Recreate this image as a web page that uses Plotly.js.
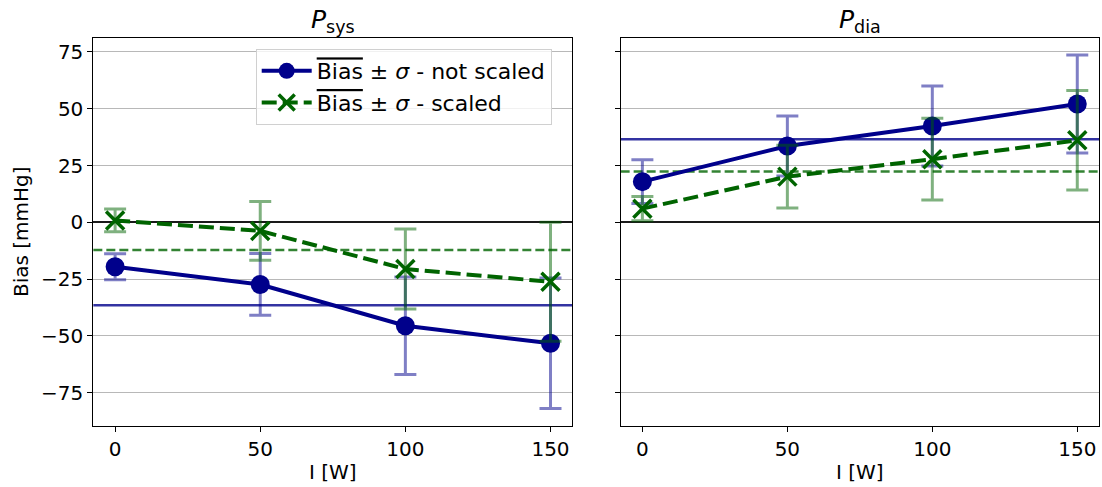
<!DOCTYPE html>
<html><head><meta charset="utf-8">
<script src="https://cdn.plot.ly/plotly-3.0.1.min.js"></script>
<style>html,body{margin:0;padding:0;background:#fff;}#chart{width:1102px;height:487px;}</style>
</head><body><div id="chart"></div>
<script>
const load = [0, 50, 100, 150];
const xTicks = [0, 50, 100, 150];
const yTicks = [-75, -50, -25, 0, 25, 50, 75];

const sysNotScaled = [-19.6, -27.4, -45.6, -53.3];
const sysNotScaledSd = [5.7, 13.6, 21.5, 28.7];
const sysScaled = [0.8, -3.8, -20.6, -26.2];
const sysScaledSd = [5.0, 12.9, 17.6, 26.2];
const diaNotScaled = [17.9, 33.6, 42.4, 52.1];
const diaNotScaledSd = [9.6, 13.2, 17.6, 21.6];
const diaScaled = [6.0, 20.1, 27.8, 36.1];
const diaScaledSd = [5.3, 13.8, 18.0, 21.9];

const meanSys = {notScaled: -36.6, scaled: -12.2};
const meanDia = {notScaled: 36.6, scaled: 22.4};

const BLUE = '#00008b', GREEN = '#006400';
const BLUE_A = 'rgba(0,0,139,0.5)', GREEN_A = 'rgba(0,100,0,0.5)';

const over = '<span style="text-decoration:overline">Bias</span>';
const names = [over + ' ± <i>σ</i> - not scaled', over + ' ± <i>σ</i> - scaled'];

function tr(y, sd, xa, ya, blue, show) {
  return {
    x: load, y: y, xaxis: xa, yaxis: ya, type: 'scatter', mode: 'lines+markers',
    name: blue ? names[0] : names[1], showlegend: show, legendgroup: blue ? 'a' : 'b',
    line: {color: blue ? BLUE : GREEN, width: 4, dash: blue ? 'solid' : '15px,6px'},
    marker: blue ? {symbol: 'circle', size: 19, color: BLUE} :
                   {symbol: 'x-thin', size: 18, color: GREEN, line: {color: GREEN, width: 3.5}},
    error_y: {type: 'data', array: sd, visible: true, color: blue ? BLUE_A : GREEN_A, thickness: 3, width: 11}
  };
}

const data = [
  tr(sysNotScaled, sysNotScaledSd, 'x', 'y', true, true),
  tr(sysScaled, sysScaledSd, 'x', 'y', false, true),
  tr(diaNotScaled, diaNotScaledSd, 'x2', 'y2', true, false),
  tr(diaScaled, diaScaledSd, 'x2', 'y2', false, false)
];

function hline(xref, yref, y, color, dash, w) {
  return {type: 'line', xref: xref + ' domain', yref: yref, x0: 0, x1: 1, y0: y, y1: y,
          line: {color: color, width: w, dash: dash}, layer: 'below'};
}

const FAM = 'DejaVu Sans, sans-serif';
const axFont = {family: FAM, size: 20, color: '#000'};
const xaxisBase = {
  range: [-7.5, 157.5], tickvals: xTicks, ticks: 'outside', ticklen: 5, tickcolor: '#000',
  showline: true, mirror: true, linecolor: '#000', linewidth: 1, showgrid: false, zeroline: false,
  tickfont: axFont, title: {text: 'I [W]', font: axFont, standoff: 5}
};
const yaxisBase = {
  range: [-89.6, 81.3], tickvals: yTicks, ticks: 'outside', ticklen: 5, tickcolor: '#000',
  showline: true, mirror: true, linecolor: '#000', linewidth: 1, showgrid: true,
  gridcolor: '#b8b8b8', gridwidth: 1, zeroline: true, zerolinecolor: '#1a1a1a', zerolinewidth: 1.8,
  tickfont: axFont
};

const layout = {
  width: 1102, height: 487, margin: {l: 0, r: 0, t: 0, b: 0},
  paper_bgcolor: '#fff', plot_bgcolor: '#fff', showlegend: true,
  font: {family: FAM, color: '#000'},
  xaxis: Object.assign({}, xaxisBase, {domain: [0.0847, 0.5193], anchor: 'y'}),
  xaxis2: Object.assign({}, xaxisBase, {domain: [0.5632, 0.9973], anchor: 'y2'}),
  yaxis: Object.assign({}, yaxisBase, {domain: [0.1259, 0.9226], anchor: 'x',
          title: {text: 'Bias [mmHg]', font: axFont, standoff: 7}}),
  yaxis2: Object.assign({}, yaxisBase, {domain: [0.1259, 0.9226], anchor: 'x2', matches: 'y', showticklabels: false}),
  shapes: [
    hline('x', 'y', meanSys.notScaled, 'rgba(0,0,139,0.8)', 'solid', 2.5),
    hline('x', 'y', meanSys.scaled, 'rgba(0,100,0,0.8)', '9px,4px', 2.5),
    hline('x2', 'y2', meanDia.notScaled, 'rgba(0,0,139,0.8)', 'solid', 2.5),
    hline('x2', 'y2', meanDia.scaled, 'rgba(0,100,0,0.8)', '9px,4px', 2.5)
  ],
  annotations: [
    {text: '<i>P</i><sub>sys</sub>', xref: 'x domain', yref: 'paper', x: 0.5, y: 1 - 39/487,
     xanchor: 'center', yanchor: 'bottom', showarrow: false, font: {family: FAM, size: 25}},
    {text: '<i>P</i><sub>dia</sub>', xref: 'x2 domain', yref: 'paper', x: 0.5, y: 1 - 39/487,
     xanchor: 'center', yanchor: 'bottom', showarrow: false, font: {family: FAM, size: 25}}
  ],
  legend: {x: 255.7/1102, y: 1 - 49/487, xanchor: 'left', yanchor: 'top',
           bgcolor: 'rgba(255,255,255,0.8)', bordercolor: '#d0d0d0', borderwidth: 1,
           font: {family: FAM, size: 22, color: '#000'}, itemwidth: 50, tracegroupgap: 0}
};

Plotly.newPlot('chart', data, layout, {displayModeBar: false, staticPlot: true});
</script></body></html>
